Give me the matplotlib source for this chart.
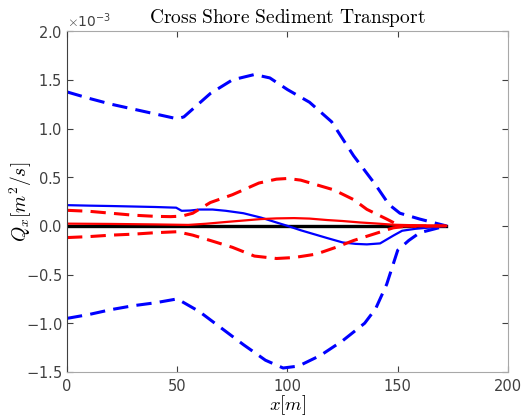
import numpy as np
import matplotlib.pyplot as plt
from matplotlib.ticker import ScalarFormatter

plt.rcParams['mathtext.fontset'] = 'cm'

# cross-shore positions [m] and transport values [1e-3 m^2/s]
x_up = [0, 10, 20, 30, 40, 50, 53, 58, 65, 75, 85, 92, 100, 110, 120, 130, 140, 146, 151, 160, 172]
q_up = [1.376, 1.31, 1.25, 1.20, 1.15, 1.10, 1.12, 1.22, 1.36, 1.50, 1.555, 1.52, 1.40, 1.27, 1.07, 0.72, 0.42, 0.22, 0.13, 0.07, 0.0]

x_lo = [0, 10, 20, 30, 40, 50, 60, 70, 80, 90, 98, 105, 115, 125, 135, 140, 145, 150, 155, 160, 172]
q_lo = [-0.95, -0.91, -0.86, -0.82, -0.79, -0.75, -0.88, -1.05, -1.22, -1.38, -1.46, -1.44, -1.33, -1.18, -1.0, -0.85, -0.6, -0.25, -0.15, -0.07, 0.0]

x_mean = [0, 10, 20, 30, 40, 49.5, 52, 56, 60, 66, 72, 80, 88, 95, 100, 106, 112, 118, 125, 131, 136, 142, 145, 148, 152, 158, 163, 172]
q_mean = [0.213, 0.208, 0.204, 0.199, 0.194, 0.187, 0.155, 0.158, 0.168, 0.168, 0.155, 0.13, 0.085, 0.035, 0.0, -0.045, -0.085, -0.125, -0.17, -0.185, -0.19, -0.18, -0.14, -0.10, -0.05, -0.03, -0.02, 0.0]

x_rup = [0, 10, 20, 30, 40, 47, 52, 57, 65, 75, 87, 95, 100, 106, 112, 121, 130, 136, 145, 151, 160, 172]
q_rup = [0.16, 0.15, 0.13, 0.11, 0.098, 0.095, 0.10, 0.13, 0.24, 0.32, 0.44, 0.48, 0.487, 0.47, 0.43, 0.37, 0.27, 0.17, 0.07, 0.0, -0.005, 0.0]

x_rlo = [0, 10, 20, 30, 40, 50, 57, 65, 75, 85, 95, 103, 113, 122, 130, 139, 148, 155, 172]
q_rlo = [-0.12, -0.11, -0.095, -0.085, -0.07, -0.06, -0.095, -0.15, -0.22, -0.31, -0.335, -0.325, -0.29, -0.22, -0.15, -0.085, -0.02, 0.0, 0.0]

x_rmean = [0, 20, 40, 55, 63, 72, 80, 88, 95, 103, 110, 118, 125, 133, 140, 148, 160, 172]
q_rmean = [0.023, 0.02, 0.015, 0.01, 0.022, 0.04, 0.055, 0.07, 0.077, 0.08, 0.075, 0.06, 0.05, 0.035, 0.025, 0.012, 0.005, 0.0]

x_zero = [0, 172]
q_zero = [0, 0]

s = 1e-3
dash = (5, 2.7)
fig = plt.figure(figsize=(5.28, 4.16), dpi=100)
ax = fig.add_axes([0.127, 0.106, 0.835, 0.819])

ax.plot(x_zero, np.array(q_zero) * s, color='k', lw=2.4)
ax.plot(x_up, np.array(q_up) * s, '--', color='b', lw=2.2, dashes=dash)
ax.plot(x_lo, np.array(q_lo) * s, '--', color='b', lw=2.2, dashes=dash)
ax.plot(x_mean, np.array(q_mean) * s, '-', color='b', lw=1.6)
ax.plot(x_rup, np.array(q_rup) * s, '--', color='r', lw=2.2, dashes=dash)
ax.plot(x_rlo, np.array(q_rlo) * s, '--', color='r', lw=2.2, dashes=dash)
ax.plot(x_rmean, np.array(q_rmean) * s, '-', color='r', lw=1.6)

ax.set_xlim(0, 200)
ax.set_ylim(-1.5e-3, 2e-3)
ax.set_xticks([0, 50, 100, 150, 200])
ax.set_yticks(np.arange(-1.5e-3, 2.01e-3, 0.5e-3))

fmt = ScalarFormatter(useMathText=True)
fmt.set_powerlimits((-2, 2))
ax.yaxis.set_major_formatter(fmt)
ax.yaxis.get_offset_text().set_color('#404040')
ax.yaxis.get_offset_text().set_fontsize(10)

ax.tick_params(direction='in', top=True, right=True, labelsize=10.5,
               colors='#404040', length=4, width=0.8)
ax.tick_params(axis='x', pad=5)
for side in ['top', 'right', 'bottom']:
    ax.spines[side].set_color('#a8a8a8')
ax.spines['left'].set_color('#404040')

ax.set_title(r'$\mathrm{Cross\ Shore\ Sediment\ Transport}$', fontsize=14, pad=6)
ax.set_xlabel(r'$x[m]$', fontsize=13.5)
ax.set_ylabel(r'$Q_x[m^2/s]$', fontsize=14)
ax.xaxis.set_label_coords(0.5, -0.063)
ax.yaxis.set_label_coords(-0.075, 0.5)

fig.savefig('out.png', dpi=100)
